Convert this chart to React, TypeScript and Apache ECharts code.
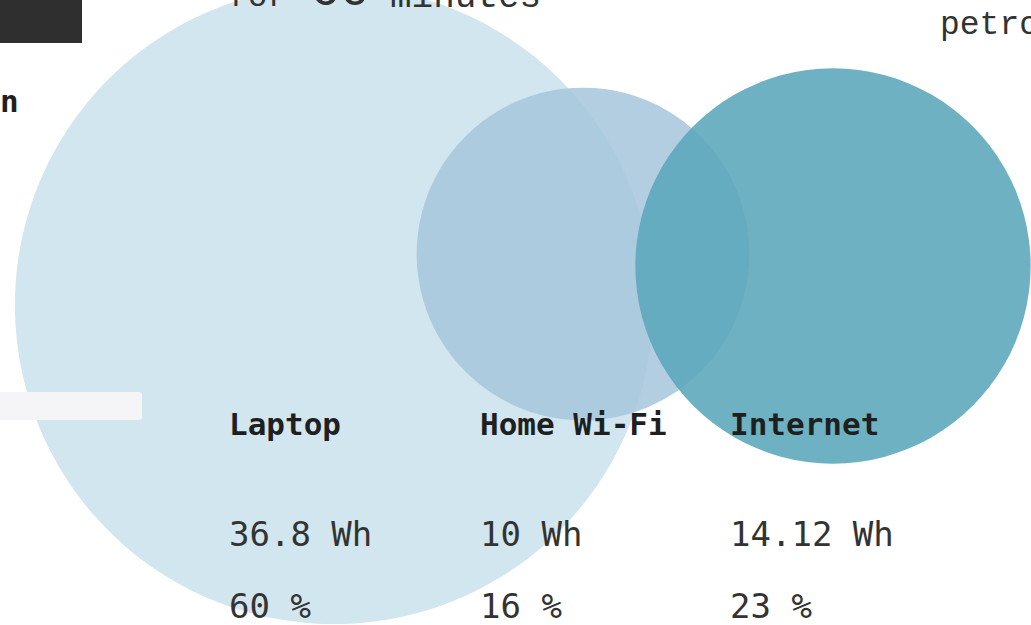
import React, { useEffect, useRef } from "react";
import * as echarts from "echarts";

// ---- data ----
const categories = ["Laptop", "Home Wi-Fi", "Internet"];
const energyWh = [36.8, 10, 14.12];
const energyLabels = ["36.8 Wh", "10 Wh", "14.12 Wh"];
const shares = [60, 16, 23];

// ---- layout (circle centres in page units) ----
const centreX = [334, 583, 833];
const centreY = [305, 254, 266];
const labelX = [229, 480, 730];
const colors = ["#d1e6ee", "rgba(166,198,218,0.85)", "rgba(93,169,189,0.9)"];
const RADIUS_PER_SQRT_WH = 52.6;

export default function App() {
  const ref = useRef<HTMLDivElement>(null);
  useEffect(() => {
    if (!ref.current) return;
    const chart = echarts.init(ref.current, null, { renderer: "svg" });
    const mono = "DejaVu Sans Mono";
    const courier = "'Courier New', 'Liberation Mono', monospace";
    const texts: any[] = [];
    categories.forEach((c, i) => {
      texts.push({
        type: "text",
        z: 10,
        style: { text: c, x: labelX[i], y: 424, font: `bold 31px ${mono}`, fill: "#1f1f1f", verticalAlign: "middle" },
      });
      texts.push({
        type: "text",
        z: 10,
        style: { text: energyLabels[i], x: labelX[i], y: 534, font: `34px ${mono}`, fill: "#333", verticalAlign: "middle" },
      });
      texts.push({
        type: "text",
        z: 10,
        style: { text: `${shares[i]} %`, x: labelX[i], y: 606, font: `34px ${mono}`, fill: "#333", verticalAlign: "middle" },
      });
    });
    chart.setOption({
      animation: false,
      backgroundColor: "#ffffff",
      grid: { left: 0, right: 0, top: 0, bottom: 0 },
      xAxis: { type: "value", min: 0, max: 1031, show: false },
      yAxis: { type: "value", min: 0, max: 625, inverse: true, show: false },
      series: [
        {
          type: "scatter",
          clip: false,
          symbol: "circle",
          symbolSize: (v: number[]) => 2 * RADIUS_PER_SQRT_WH * Math.sqrt(v[2]),
          data: categories.map((c, i) => ({
            name: c,
            value: [centreX[i], centreY[i], energyWh[i]],
            itemStyle: { color: colors[i], opacity: 1 },
          })),
          emphasis: { disabled: true },
        },
      ],
      graphic: [
        { type: "rect", shape: { x: 0, y: 0, width: 82, height: 43 }, style: { fill: "#2f2f2f" }, z: 20 },
        { type: "rect", shape: { x: 0, y: 392, width: 142, height: 28, r: [0, 3, 3, 0] }, style: { fill: "#f5f5f7" }, z: 20 },
        { type: "text", z: 20, style: { text: "n", x: 0, y: 101, font: `bold 31px ${mono}`, fill: "#1f1f1f", verticalAlign: "middle" } },
        { type: "text", z: 20, style: { text: "for", x: 228, y: -3, font: `33px ${courier}`, fill: "#333", verticalAlign: "middle" } },
        { type: "text", z: 20, style: { text: "60", x: 310, y: -9, font: `50px ${courier}`, fill: "#333", verticalAlign: "middle" } },
        { type: "text", z: 20, style: { text: "minutes", x: 390, y: -3, font: `36px ${courier}`, fill: "#333", verticalAlign: "middle" } },
        { type: "text", z: 20, style: { text: "petro", x: 940, y: 25, font: `33px ${courier}`, fill: "#333", verticalAlign: "middle" } },
        ...texts,
      ],
    });
    return () => chart.dispose();
  }, []);
  return <div ref={ref} style={{ position: "fixed", left: 0, top: 0, width: 1031, height: 625 }} />;
}
